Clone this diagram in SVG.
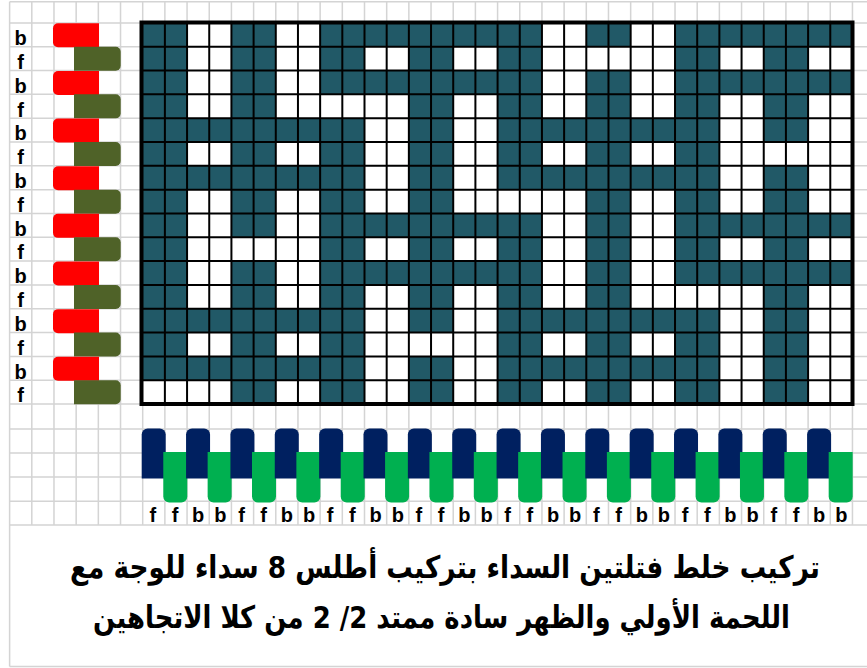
<svg xmlns="http://www.w3.org/2000/svg" width="867" height="668" viewBox="0 0 867 668">
<style>
.g{stroke:#d4d4d4;stroke-width:1.5;fill:none}
.d{fill:#215967}
.w{fill:#ffffff}
.bl{stroke:#000;stroke-width:2;fill:none;vector-effect:non-scaling-stroke}
.lab{font-family:"Liberation Sans",Arial,sans-serif;font-weight:bold;font-size:20px;fill:#000;text-anchor:middle}
.cap{font-family:"DejaVu Sans",sans-serif;font-weight:bold;font-size:31px;fill:#000;text-anchor:middle}
</style>
<defs>
<path id="red" d="M58 0H99V24H58A5 5 0 0 1 53 19V5A5 5 0 0 1 58 0Z" fill="#ff0000"/>
<path id="olv" d="M74 0H115.7A5 5 0 0 1 120.7 5V19A5 5 0 0 1 115.7 24H74Z" fill="#4f6228"/>
<path id="nav" d="M0 6A6 6 0 0 1 6 0H18A6 6 0 0 1 24 6V50H0Z" fill="#002060"/>
<path id="grn" d="M0 0H24V44.5A6 6 0 0 1 18 50.5H6A6 6 0 0 1 0 44.5Z" fill="#00b050"/>
</defs>
<rect width="867" height="668" fill="#fff"/>
<g id="sheet-grid">
<path class="g" d="M9.62 1.7H867M9.62 22.9H867M9.62 46.72H867M9.62 70.54H867M9.62 94.36H867M9.62 118.18H867M9.62 142H867M9.62 165.82H867M9.62 189.64H867M9.62 213.46H867M9.62 237.28H867M9.62 261.1H867M9.62 284.92H867M9.62 308.74H867M9.62 332.56H867M9.62 356.38H867M9.62 380.2H867M9.62 404.02H867M9.62 429H867M9.62 453H867M9.62 477H867M9.62 501.3H867M9.62 525H867M9.62 666.5H867"/>
<path class="g" d="M9.62 1.7V666.5M31.8 1.7V525M53.98 1.7V525M76.16 1.7V525M98.34 1.7V525M120.52 1.7V525M142.7 1.7V525M164.88 1.7V525M187.06 1.7V525M209.24 1.7V525M231.42 1.7V525M253.6 1.7V525M275.78 1.7V525M297.96 1.7V525M320.14 1.7V525M342.32 1.7V525M364.5 1.7V525M386.68 1.7V525M408.86 1.7V525M431.04 1.7V525M453.22 1.7V525M475.4 1.7V525M497.58 1.7V525M519.76 1.7V525M541.94 1.7V525M564.12 1.7V525M586.3 1.7V525M608.48 1.7V525M630.66 1.7V525M652.84 1.7V525M675.02 1.7V525M697.2 1.7V525M719.38 1.7V525M741.56 1.7V525M763.74 1.7V525M785.92 1.7V525M808.1 1.7V525M830.28 1.7V525M852.46 1.7V525"/>
</g>
<g id="weft-bobbins">
<use href="#red" y="23.3"/>
<use href="#olv" y="46.72"/>
<use href="#red" y="70.94"/>
<use href="#olv" y="94.36"/>
<use href="#red" y="118.58"/>
<use href="#olv" y="142"/>
<use href="#red" y="166.22"/>
<use href="#olv" y="189.64"/>
<use href="#red" y="213.86"/>
<use href="#olv" y="237.28"/>
<use href="#red" y="261.5"/>
<use href="#olv" y="284.92"/>
<use href="#red" y="309.14"/>
<use href="#olv" y="332.56"/>
<use href="#red" y="356.78"/>
<use href="#olv" y="380.2"/>
</g>
<g id="weft-labels" class="lab">
<text x="20.7" y="45">b</text>
<text x="20.7" y="69.2">f</text>
<text x="20.7" y="92.6">b</text>
<text x="20.7" y="116.5">f</text>
<text x="20.7" y="140.3">b</text>
<text x="20.7" y="164.1">f</text>
<text x="20.7" y="187.9">b</text>
<text x="20.7" y="211.8">f</text>
<text x="20.7" y="235.6">b</text>
<text x="20.7" y="259.4">f</text>
<text x="20.7" y="283.2">b</text>
<text x="20.7" y="307">f</text>
<text x="20.7" y="330.9">b</text>
<text x="20.7" y="354.7">f</text>
<text x="20.7" y="378.5">b</text>
<text x="20.7" y="402.3">f</text>
</g>
<g id="weave" transform="translate(142.7 22.9) scale(22.18 23.82)">
<rect width="32" height="16" class="w"/>
<rect x="0" width="2" height="16" class="d"/>
<rect x="4" width="2" height="16" class="d"/>
<rect x="8" width="2" height="16" class="d"/>
<rect x="12" width="2" height="16" class="d"/>
<rect x="16" width="2" height="16" class="d"/>
<rect x="20" width="2" height="16" class="d"/>
<rect x="24" width="2" height="16" class="d"/>
<rect x="28" width="2" height="16" class="d"/>
<rect x="20" y="1" width="2" height="1" class="w"/>
<rect x="8" y="3" width="2" height="1" class="w"/>
<rect x="28" y="5" width="2" height="1" class="w"/>
<rect x="16" y="7" width="2" height="1" class="w"/>
<rect x="4" y="9" width="2" height="1" class="w"/>
<rect x="24" y="11" width="2" height="1" class="w"/>
<rect x="12" y="13" width="2" height="1" class="w"/>
<rect x="0" y="15" width="2" height="1" class="w"/>
<rect x="10" y="0" width="2" height="1" class="d"/><rect x="14" y="0" width="2" height="1" class="d"/><rect x="26" y="0" width="2" height="1" class="d"/><rect x="30" y="0" width="2" height="1" class="d"/>
<rect x="10" y="2" width="2" height="1" class="d"/><rect x="14" y="2" width="2" height="1" class="d"/><rect x="26" y="2" width="2" height="1" class="d"/><rect x="30" y="2" width="2" height="1" class="d"/>
<rect x="10" y="8" width="2" height="1" class="d"/><rect x="14" y="8" width="2" height="1" class="d"/><rect x="26" y="8" width="2" height="1" class="d"/><rect x="30" y="8" width="2" height="1" class="d"/>
<rect x="10" y="10" width="2" height="1" class="d"/><rect x="14" y="10" width="2" height="1" class="d"/><rect x="26" y="10" width="2" height="1" class="d"/><rect x="30" y="10" width="2" height="1" class="d"/>
<rect x="2" y="4" width="2" height="1" class="d"/><rect x="6" y="4" width="2" height="1" class="d"/><rect x="18" y="4" width="2" height="1" class="d"/><rect x="22" y="4" width="2" height="1" class="d"/>
<rect x="2" y="6" width="2" height="1" class="d"/><rect x="6" y="6" width="2" height="1" class="d"/><rect x="18" y="6" width="2" height="1" class="d"/><rect x="22" y="6" width="2" height="1" class="d"/>
<rect x="2" y="12" width="2" height="1" class="d"/><rect x="6" y="12" width="2" height="1" class="d"/><rect x="18" y="12" width="2" height="1" class="d"/><rect x="22" y="12" width="2" height="1" class="d"/>
<rect x="2" y="14" width="2" height="1" class="d"/><rect x="6" y="14" width="2" height="1" class="d"/><rect x="18" y="14" width="2" height="1" class="d"/><rect x="22" y="14" width="2" height="1" class="d"/>
<path class="bl" d="M1 0V16M2 0V16M3 0V16M4 0V16M5 0V16M6 0V16M7 0V16M8 0V16M9 0V16M10 0V16M11 0V16M12 0V16M13 0V16M14 0V16M15 0V16M16 0V16M17 0V16M18 0V16M19 0V16M20 0V16M21 0V16M22 0V16M23 0V16M24 0V16M25 0V16M26 0V16M27 0V16M28 0V16M29 0V16M30 0V16M31 0V16M0 1H32M0 2H32M0 3H32M0 4H32M0 5H32M0 6H32M0 7H32M0 8H32M0 9H32M0 10H32M0 11H32M0 12H32M0 13H32M0 14H32M0 15H32"/>
</g>
<rect id="weave-border" x="141.5" y="22.5" width="711" height="381.5" fill="none" stroke="#000" stroke-width="4"/>
<g id="warp-bobbins">
<use href="#nav" x="141.7" y="428.5"/><use href="#grn" x="163.28" y="452"/>
<use href="#nav" x="186.06" y="428.5"/><use href="#grn" x="207.64" y="452"/>
<use href="#nav" x="230.42" y="428.5"/><use href="#grn" x="252" y="452"/>
<use href="#nav" x="274.78" y="428.5"/><use href="#grn" x="296.36" y="452"/>
<use href="#nav" x="319.14" y="428.5"/><use href="#grn" x="340.72" y="452"/>
<use href="#nav" x="363.5" y="428.5"/><use href="#grn" x="385.08" y="452"/>
<use href="#nav" x="407.86" y="428.5"/><use href="#grn" x="429.44" y="452"/>
<use href="#nav" x="452.22" y="428.5"/><use href="#grn" x="473.8" y="452"/>
<use href="#nav" x="496.58" y="428.5"/><use href="#grn" x="518.16" y="452"/>
<use href="#nav" x="540.94" y="428.5"/><use href="#grn" x="562.52" y="452"/>
<use href="#nav" x="585.3" y="428.5"/><use href="#grn" x="606.88" y="452"/>
<use href="#nav" x="629.66" y="428.5"/><use href="#grn" x="651.24" y="452"/>
<use href="#nav" x="674.02" y="428.5"/><use href="#grn" x="695.6" y="452"/>
<use href="#nav" x="718.38" y="428.5"/><use href="#grn" x="739.96" y="452"/>
<use href="#nav" x="762.74" y="428.5"/><use href="#grn" x="784.32" y="452"/>
<use href="#nav" x="807.1" y="428.5"/><use href="#grn" x="828.68" y="452"/>
</g>
<g id="warp-labels" class="lab">
<text x="152.8" y="521.7">f</text><text x="175" y="521.7">f</text><text x="198.15" y="521.7">b</text><text x="220.33" y="521.7">b</text>
<text x="241.5" y="521.7">f</text><text x="263.7" y="521.7">f</text><text x="286.87" y="521.7">b</text><text x="309.05" y="521.7">b</text>
<text x="330.2" y="521.7">f</text><text x="352.4" y="521.7">f</text><text x="375.59" y="521.7">b</text><text x="397.77" y="521.7">b</text>
<text x="418.9" y="521.7">f</text><text x="441.1" y="521.7">f</text><text x="464.31" y="521.7">b</text><text x="486.49" y="521.7">b</text>
<text x="507.7" y="521.7">f</text><text x="529.9" y="521.7">f</text><text x="553.03" y="521.7">b</text><text x="575.21" y="521.7">b</text>
<text x="596.4" y="521.7">f</text><text x="618.6" y="521.7">f</text><text x="641.75" y="521.7">b</text><text x="663.93" y="521.7">b</text>
<text x="685.1" y="521.7">f</text><text x="707.3" y="521.7">f</text><text x="730.47" y="521.7">b</text><text x="752.65" y="521.7">b</text>
<text x="773.8" y="521.7">f</text><text x="796" y="521.7">f</text><text x="819.19" y="521.7">b</text><text x="841.37" y="521.7">b</text>
</g>
<g id="caption" class="cap">
<text transform="translate(445 578) scale(0.77 1)" x="0" y="0" direction="rtl" textLength="974" lengthAdjust="spacingAndGlyphs">تركيب خلط فتلتين السداء بتركيب أطلس 8 سداء للوجة مع</text>
<text transform="translate(441.5 628) scale(0.77 1)" x="0" y="0" direction="rtl" textLength="905" lengthAdjust="spacingAndGlyphs">اللحمة الأولي والظهر سادة ممتد 2/ 2 من كلا الاتجاهين</text>
</g>
</svg>
